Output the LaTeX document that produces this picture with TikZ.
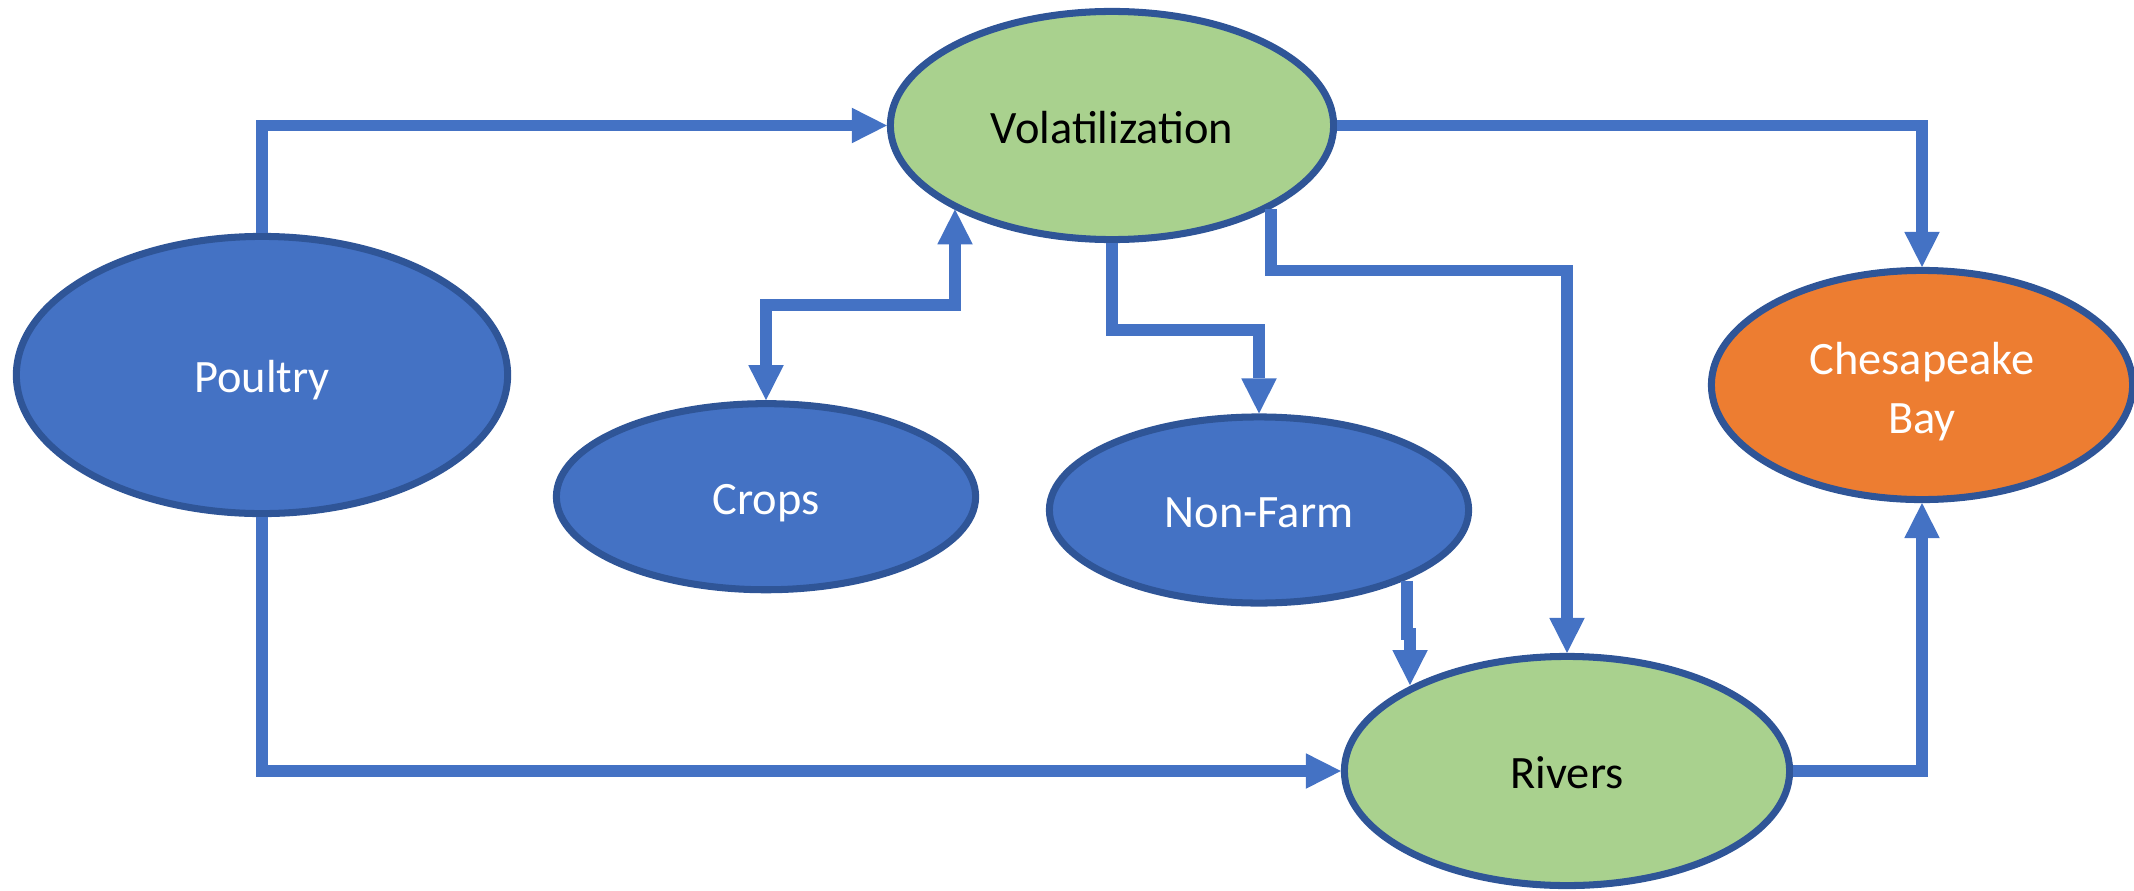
\documentclass[tikz,border=0pt]{standalone}
\usepackage{fontspec}
\setmainfont{Carlito}
\usetikzlibrary{arrows.meta,shapes.geometric}
\definecolor{connc}{HTML}{4472C4}
\definecolor{bordc}{HTML}{2F5597}
\definecolor{grnc}{HTML}{A9D18E}
\definecolor{orgc}{HTML}{ED7D31}
\definecolor{bluc}{HTML}{4472C4}
\begin{document}
\begin{tikzpicture}[x=0.01cm,y=0.01cm,
  oval/.style={ellipse, draw=bordc, line width=2pt, inner sep=0pt,
    font=\fontsize{13.2}{16.5}\selectfont},
  oneline/.style={text height=11.5pt, text depth=1.54pt},
  bigoval/.style={oval, minimum width=4.43cm, minimum height=2.28cm},
  smalloval/.style={oval, minimum width=4.19cm, minimum height=1.86cm},
  greenoval/.style={fill=grnc, text=black},
  blueoval/.style={fill=bluc, text=white},
  conn/.style={draw=connc, line width=3.33pt, line join=miter, -{Triangle[length=9.96pt, width=10.1pt, line width=0pt]}},
  conn2/.style={draw=connc, line width=3.33pt, line join=miter, {Triangle[length=9.96pt, width=10.1pt, line width=0pt]}-{Triangle[length=9.96pt, width=10.1pt, line width=0pt]}}
]
\useasboundingbox (0,0) rectangle (2134,890);

\node[bigoval, greenoval, oneline] (vol) at (1112,764.5) {Volatilization};
\node[oval, blueoval, oneline, minimum width=4.91cm, minimum height=2.77cm] (poultry) at (262,515) {Poultry};
\node[smalloval, blueoval, oneline] (crops) at (766,393.3) {Crops};
\node[smalloval, blueoval, oneline] (nonfarm) at (1259,380) {Non-Farm};
\node[oval, fill=orgc, text=white, minimum width=4.21cm, minimum height=2.29cm] (bay) at (1922,505)
  {\raisebox{-2.1pt}[\height][\depth]{\begin{tabular}{@{}c@{}}Chesapeake\\Bay\end{tabular}}};
\node[oval, greenoval, oneline, minimum width=4.45cm, minimum height=2.29cm] (rivers) at (1567,119) {Rivers};

\coordinate (cv) at (955,585);
\coordinate (vn) at (1259,560);
\coordinate (vr) at (1271,619.5);
\coordinate (nr1) at (1407,256);
\coordinate (nr2) at (1410,256);

\draw[conn] (poultry.north) |- (vol.west);
\draw[conn] (poultry.south) |- (rivers.west);
\draw[conn] (vol.east) -| (bay.north);
\draw[conn] (rivers.east) -| (bay.south);
\draw[conn2] (crops.north) |- (cv) -- (cv |- vol.208.2);
\draw[conn] (vol.south) |- (vn) -- (nonfarm.north);
\draw[conn] (vr |- vol.332.4) -- (vr) -| (rivers.north);
\draw[conn] (nr1 |- nonfarm.334.9) -- (nr1) -- (nr2) -- (nr2 |- rivers.151.6);
\end{tikzpicture}
\end{document}
